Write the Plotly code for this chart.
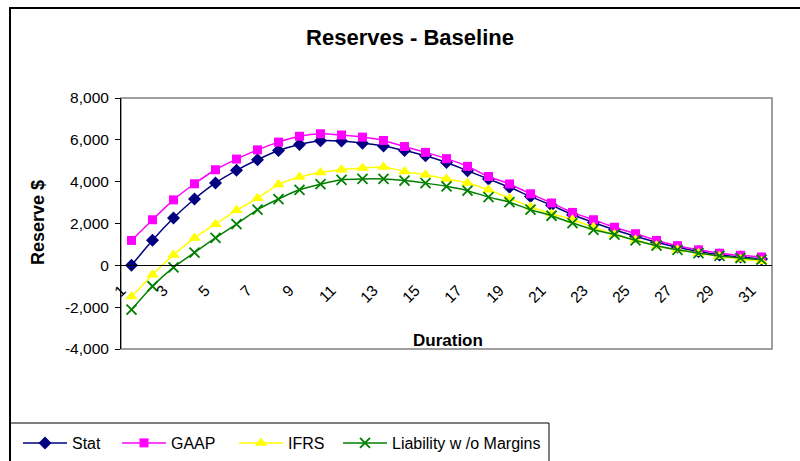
import plotly.graph_objects as go

durations = list(range(1, 32))
x_tick_vals = list(range(1, 32, 2))
x_tick_labels = [str(d) for d in x_tick_vals]
y_tick_vals = [-4000, -2000, 0, 2000, 4000, 6000, 8000]
y_tick_labels = ["-4,000", "-2,000", "0", "2,000", "4,000", "6,000", "8,000"]

stat = [0, 1200, 2260, 3170, 3940, 4540, 5050, 5490, 5780, 5960, 5940, 5840, 5710, 5490, 5240,
        4920, 4520, 4130, 3730, 3290, 2870, 2420, 2050, 1700, 1390, 1100, 860, 660, 500, 400, 300]
gaap = [1190, 2180, 3130, 3900, 4570, 5080, 5520, 5890, 6170, 6290, 6230, 6130, 5970, 5680, 5400,
        5100, 4730, 4250, 3890, 3420, 2980, 2530, 2180, 1820, 1510, 1190, 940, 740, 580, 480, 400]
ifrs = [-1490, -450, 500, 1310, 1970, 2630, 3210, 3860, 4220, 4440, 4570, 4650, 4700, 4490, 4330,
        4130, 3940, 3610, 3210, 2790, 2470, 2180, 1820, 1470, 1220, 940, 740, 580, 430, 300, 190]
liability = [-2120, -1000, -100, 610, 1310, 1970, 2660, 3170, 3610, 3880, 4090, 4130, 4130, 4050, 3930,
             3780, 3570, 3260, 3020, 2660, 2370, 2020, 1700, 1470, 1190, 940, 740, 580, 450, 350, 270]

FONT = "Arial, Liberation Sans, sans-serif"
W, H = 800, 461
L, R, T, B = 121, 772, 98, 349  # plot area in px


def px(x):
    return (x - L) / (R - L)


def py(y):
    return (B - y) / (B - T)


fig = go.Figure()
fig.add_trace(go.Scatter(x=durations, y=stat, name="Stat", mode="lines+markers", legend="legend",
                         line=dict(color="#000080", width=1.5, shape="spline", smoothing=0.6),
                         marker=dict(symbol="diamond", size=10, color="#000080")))
fig.add_trace(go.Scatter(x=durations, y=gaap, name="GAAP", mode="lines+markers", legend="legend2",
                         line=dict(color="#FF00FF", width=1.5, shape="spline", smoothing=0.6),
                         marker=dict(symbol="square", size=9, color="#FF00FF")))
fig.add_trace(go.Scatter(x=durations, y=ifrs, name="IFRS", mode="lines+markers", legend="legend3",
                         line=dict(color="#FFFF00", width=1.5, shape="spline", smoothing=0.6),
                         marker=dict(symbol="triangle-up", size=11, color="#FFFF00")))
fig.add_trace(go.Scatter(x=durations, y=liability, name="Liability w /o Margins", mode="lines+markers",
                         legend="legend4",
                         line=dict(color="#008000", width=1.5, shape="spline", smoothing=0.6),
                         marker=dict(symbol="x-thin", size=10, color="#008000",
                                     line=dict(color="#008000", width=1.8))))


def legend_at(x_px):
    return dict(orientation="h", x=px(x_px), xanchor="left", y=py(426), yanchor="top",
                font=dict(family=FONT, size=16, color="black"), bgcolor="rgba(0,0,0,0)",
                itemwidth=44, borderwidth=0)


fig.update_layout(
    width=W, height=H,
    margin=dict(l=L, r=W - R, t=T, b=H - B, pad=0, autoexpand=False),
    paper_bgcolor="white", plot_bgcolor="white",
    font=dict(family=FONT, size=15, color="black"),
    showlegend=True,
    title=dict(text="<b>Reserves - Baseline</b>", x=410 / W, xref="container", xanchor="center",
               y=1 - 37 / H, yref="container", yanchor="middle",
               font=dict(family=FONT, size=22, color="black")),
    xaxis=dict(range=[0.5, 31.5], tickmode="array", tickvals=x_tick_vals, ticktext=x_tick_labels,
               tickangle=-45, ticks="", showgrid=False, zeroline=False, showline=True,
               linecolor="black", linewidth=1, anchor="free", position=1 / 3, automargin=False,
               ticklabelshift=-10, ticklabelstandoff=9,
               tickfont=dict(family=FONT, size=15.5, color="black")),
    xaxis2=dict(range=[0.5, 31.5], overlaying="x", anchor="free", position=1 / 3, automargin=False,
                tickmode="array", tickvals=[d + 0.5 for d in range(0, 32)],
                ticks="outside", ticklen=5, tickcolor="black", showticklabels=False,
                showgrid=False, zeroline=False, showline=False),
    yaxis=dict(range=[-4000, 8000], tickmode="array", tickvals=y_tick_vals, ticktext=y_tick_labels,
               ticks="outside", ticklen=5, tickcolor="black", automargin=False,
               showgrid=False, zeroline=False, showline=True, linecolor="black", linewidth=1,
               ticklabelstandoff=3,
               tickfont=dict(family=FONT, size=15.5, color="black")),
    legend=legend_at(18),
    legend2=legend_at(117),
    legend3=legend_at(234),
    legend4=legend_at(338),
    shapes=[
        dict(type="rect", xref="paper", yref="paper", x0=0, x1=1, y0=0, y1=1,
             line=dict(color="#808080", width=1.5), layer="below"),
        dict(type="rect", xref="paper", yref="paper", x0=px(10), x1=px(830), y0=py(8), y1=py(480),
             line=dict(color="black", width=2)),
        dict(type="rect", xref="paper", yref="paper", x0=px(10), x1=px(549), y0=py(423), y1=py(480),
             line=dict(color="black", width=1)),
    ],
    annotations=[
        dict(text="<b>Duration</b>", xref="paper", yref="paper", x=px(448), y=py(340),
             xanchor="center", yanchor="middle", showarrow=False,
             font=dict(family=FONT, size=17, color="black")),
        dict(text="<b>Reserve $</b>", xref="paper", yref="paper", x=px(38), y=py(223),
             xanchor="center", yanchor="middle", showarrow=False, textangle=-90,
             font=dict(family=FONT, size=18, color="black")),
    ],
)

fig.write_html("out.html", config={"displayModeBar": False},
               post_script="document.body.style.margin='0';document.body.style.overflow='hidden';")
